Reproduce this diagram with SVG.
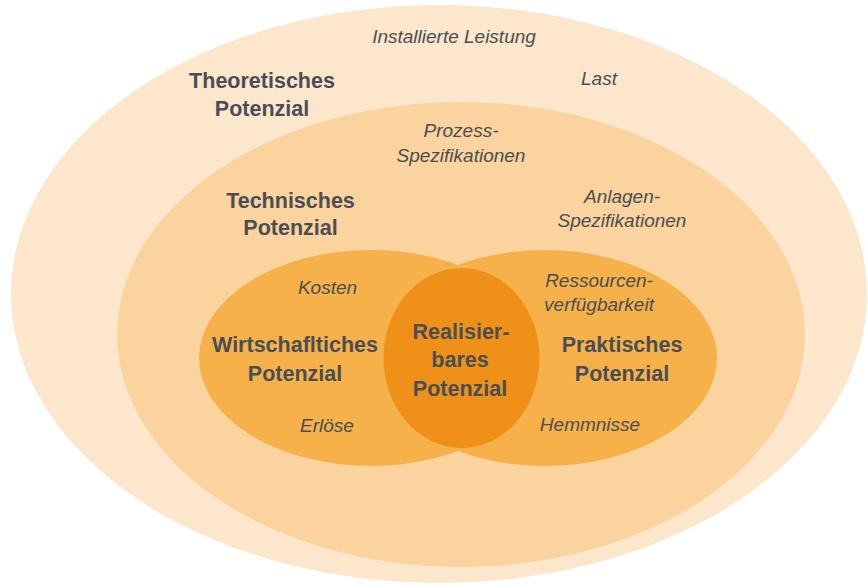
<svg xmlns="http://www.w3.org/2000/svg" width="868" height="585" viewBox="0 0 868 585">
<style>
text{font-family:"Liberation Sans",Arial,sans-serif;fill:#4a4e54;text-anchor:middle}
.b{font-weight:bold;font-size:21.5px}
.i{font-style:italic;font-size:19px}
.c1{fill:#fde7cc}
.c2{fill:#fad39e}
.c3{fill:#f6b14a}
.c4{fill:#ef9118}
</style>
<rect width="868" height="585" fill="#ffffff"/>
<g id="theoretisch">
<ellipse class="c1" cx="439" cy="294" rx="428" ry="289"/>
<text class="i" x="454" y="43">Installierte Leistung</text>
<text class="b" x="262" y="88">Theoretisches</text>
<text class="b" x="262" y="115.5">Potenzial</text>
<text class="i" x="599" y="85">Last</text>
</g>
<g id="technisch">
<ellipse class="c2" cx="461" cy="334.5" rx="344" ry="232.5"/>
<text class="i" x="461" y="136.5">Prozess-</text>
<text class="i" x="461" y="161.5">Spezifikationen</text>
<text class="b" x="290.5" y="207.5">Technisches</text>
<text class="b" x="290.5" y="235">Potenzial</text>
<text class="i" x="622" y="203">Anlagen-</text>
<text class="i" x="622" y="226.5">Spezifikationen</text>
</g>
<g id="wirtschaftlich">
<ellipse class="c3" cx="371" cy="358" rx="172" ry="108"/>
</g>
<g id="praktisch">
<ellipse class="c3" cx="545" cy="358" rx="172" ry="108"/>
</g>
<g id="wirtschaftlich-text">
<text class="i" x="327.5" y="294">Kosten</text>
<text class="b" x="295" y="351.5">Wirtschafltiches</text>
<text class="b" x="295" y="380.5">Potenzial</text>
<text class="i" x="327" y="431.5">Erlöse</text>
</g>
<g id="praktisch-text">
<text class="i" x="599" y="287">Ressourcen-</text>
<text class="i" x="599" y="310.5">verfügbarkeit</text>
<text class="b" x="622" y="351.5">Praktisches</text>
<text class="b" x="622" y="380.5">Potenzial</text>
<text class="i" x="590" y="430.5">Hemmnisse</text>
</g>
<g id="realisierbar">
<ellipse class="c4" cx="461.5" cy="358" rx="78" ry="90"/>
<text class="b" x="461" y="338.5">Realisier-</text>
<text class="b" x="460" y="367">bares</text>
<text class="b" x="460" y="395.5">Potenzial</text>
</g>
</svg>
